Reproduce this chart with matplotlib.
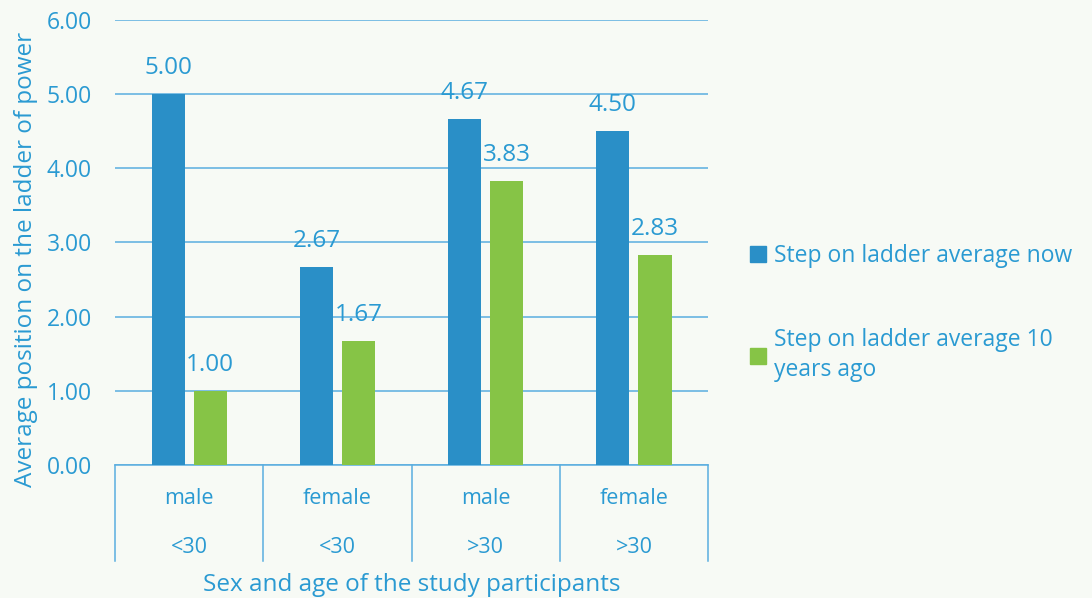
import matplotlib.pyplot as plt
import matplotlib.transforms as mtransforms
from matplotlib.patches import Patch
import numpy as np

plt.rcParams['font.family'] = ['Open Sans', 'DejaVu Sans']

sexes = ['male', 'female', 'male', 'female']
ages = ['<30', '<30', '>30', '>30']
now = [5.00, 2.67, 4.67, 4.50]
ago = [1.00, 1.67, 3.83, 2.83]
series_names = ['Step on ladder average now', 'Step on ladder average 10\nyears ago']

txt = '#2a9ad2'
blue = '#2a8fc7'
green = '#86c446'
line = '#5aaee0'
bg = '#f7faf5'

fig = plt.figure(figsize=(10.92, 5.98), dpi=100, facecolor=bg)
ax = fig.add_axes([0.1053, 0.2224, 0.5431, 0.7442])
ax.set_facecolor(bg)

x = np.arange(len(sexes))
w = 0.223
off = 0.142
b1 = ax.bar(x - off, now, w, color=blue, zorder=3)
b2 = ax.bar(x + off, ago, w, color=green, zorder=3)
for bars, vals in ((b1, now), (b2, ago)):
    for r, v in zip(bars, vals):
        ax.text(r.get_x() + r.get_width() / 2, v + 0.19, f'{v:.2f}', ha='center', va='bottom',
                color=txt, fontsize=17.5, zorder=4)

ax.set_xlim(-0.5, len(sexes) - 0.5)
ax.set_ylim(0, 6)
ax.set_yticks(range(7))
ax.set_yticklabels([f'{t:.2f}' for t in range(7)], color=txt, fontsize=16.5)
ax.tick_params(axis='y', length=0, pad=16.5)
ax.set_xticks([])
ax.grid(axis='y', color=line, linewidth=1.1, zorder=0)
for s in ['top', 'right', 'left']:
    ax.spines[s].set_visible(False)
ax.spines['bottom'].set_color(line)
ax.spines['bottom'].set_linewidth(1.1)

trans = mtransforms.blended_transform_factory(ax.transData, ax.transAxes)
for b in np.arange(-0.5, len(sexes), 1.0):
    ax.plot([b, b], [0, -0.215], color=line, linewidth=1.1, transform=trans, clip_on=False)
for i in range(len(sexes)):
    ax.text(i, -0.075, sexes[i], transform=trans, ha='center', va='center', color=txt, fontsize=15.5)
    ax.text(i, -0.186, ages[i], transform=trans, ha='center', va='center', color=txt, fontsize=15.5)

ax.text(0.5, -0.27, 'Sex and age of the study participants', transform=ax.transAxes,
        ha='center', va='center', color=txt, fontsize=17.5)
fig.text(0.024, 0.566, 'Average position on the ladder of power', rotation=90,
         ha='center', va='center', color=txt, fontsize=17.5)

handles = [Patch(color=blue), Patch(color=green)]
leg = fig.legend(handles, series_names, loc='upper left', bbox_to_anchor=(0.668, 0.626),
                 frameon=False, fontsize=16.5, handlelength=0.7, handleheight=0.7,
                 handletextpad=0.35, labelspacing=2.6, labelcolor=txt)
for t in leg.get_texts():
    t.set_linespacing(1.35)

fig.savefig('out.png', dpi=100, facecolor=bg)
